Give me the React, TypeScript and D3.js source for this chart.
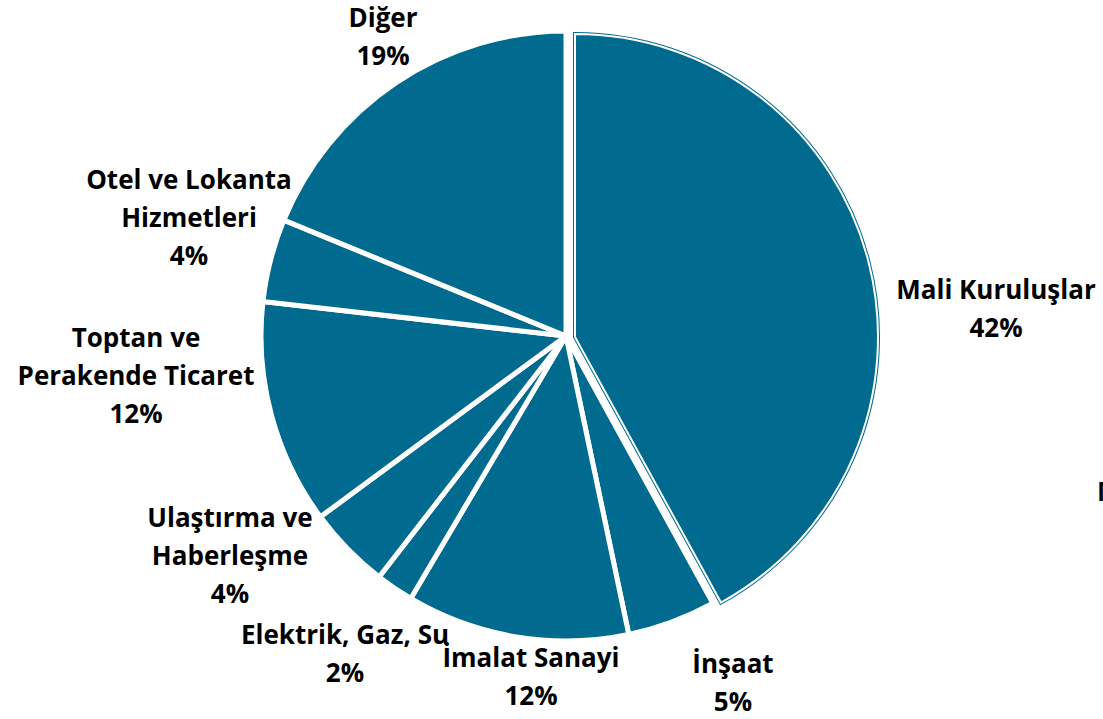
import React from "react";
import * as d3 from "d3";

const categories = [
  "Mali Kuruluşlar",
  "İnşaat",
  "İmalat Sanayi",
  "Elektrik, Gaz, Su",
  "Ulaştırma ve Haberleşme",
  "Toptan ve Perakende Ticaret",
  "Otel ve Lokanta Hizmetleri",
  "Diğer",
];
const shares = [42.0, 4.7, 11.8, 2.0, 4.4, 11.9, 4.4, 18.8];
const percentLabels = ["42%", "5%", "12%", "2%", "4%", "12%", "4%", "19%"];
const labelLines = [
  ["Mali Kuruluşlar"],
  ["İnşaat"],
  ["İmalat Sanayi"],
  ["Elektrik, Gaz, Su"],
  ["Ulaştırma ve", "Haberleşme"],
  ["Toptan ve", "Perakende Ticaret"],
  ["Otel ve Lokanta", "Hizmetleri"],
  ["Diğer"],
];

// label layout (center x, first baseline y)
const labelLayout: [number, number][] = [
  [996, 299],
  [733, 673],
  [531, 667],
  [345, 644],
  [230, 527],
  [136, 347],
  [189, 189],
  [383, 27],
];

const W = 1103;
const H = 719;
const CX = 566;
const CY = 336;
const R = 305;
const FILL = "#006b8f";
const FONT = "'Open Sans', Lato, sans-serif";
const FS = 26;
const LH = 38;

export default function App() {
  const pie = d3.pie<number>().sort(null).value((d) => d)(shares);
  const arc = d3.arc<d3.PieArcDatum<number>>().innerRadius(0).outerRadius(R);
  const arcMain = d3.arc<d3.PieArcDatum<number>>().innerRadius(0).outerRadius(R - 2);

  return (
    <div style={{ position: "absolute", left: 0, top: 0, width: W, height: H, overflow: "hidden" }}>
      <svg width={W} height={H} style={{ display: "block" }}>
        <rect width={W} height={H} fill="#ffffff" />
        <g transform={`translate(${CX},${CY})`}>
          {pie.map((p, i) => {
            if (i === 0) {
              const d = arcMain(p) || "";
              return (
                <g key={i} transform={`translate(9,1)`}>
                  <path d={d} fill={FILL} stroke={FILL} strokeWidth={4} strokeLinejoin="miter" />
                  <path d={d} fill="none" stroke="#ffffff" strokeWidth={2} strokeLinejoin="miter" />
                </g>
              );
            }
            return (
              <path
                key={i}
                d={arc(p) || ""}
                fill={FILL}
                stroke="#ffffff"
                strokeWidth={5}
                strokeLinejoin="round"
              />
            );
          })}
        </g>
        <g fontFamily={FONT} fontWeight={700} fontSize={FS} fill="#000" textAnchor="middle">
          {categories.map((c, i) => {
            const [x, y] = labelLayout[i];
            const lines = [...labelLines[i], percentLabels[i]];
            return (
              <text key={c} x={x} y={y}>
                {lines.map((l, j) => (
                  <tspan key={j} x={x} y={y + j * LH}>
                    {l}
                  </tspan>
                ))}
              </text>
            );
          })}
          <text x={1097} y={501} textAnchor="start">M</text>
        </g>
      </svg>
    </div>
  );
}
